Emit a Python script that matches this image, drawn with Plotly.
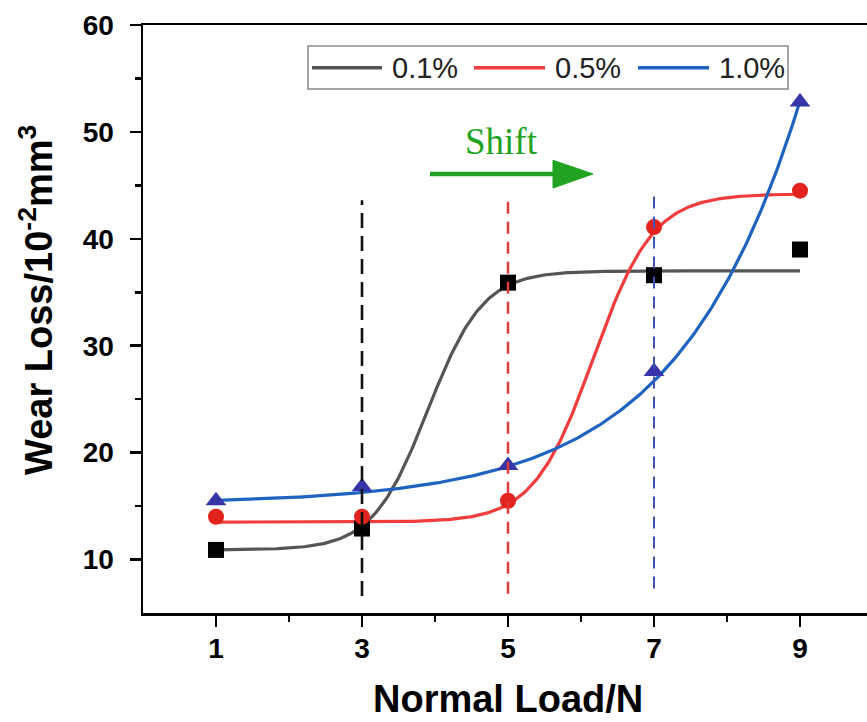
import numpy as np
import plotly.graph_objects as go

# ---- measured wear loss (10^-2 mm^3) vs normal load (N) ----
loads = [1, 3, 5, 7, 9]
wear_01 = [10.9, 12.9, 35.9, 36.6, 39.0]
wear_05 = [14.0, 14.0, 15.5, 41.1, 44.5]
wear_10 = [15.5, 16.8, 18.8, 27.6, 52.8]
series_names = ["0.1%", "0.5%", "1.0%"]

# ---- fitted model parameters ----
# Boltzmann sigmoid: y = A2 + (A1 - A2) / (1 + exp((x - x0) / dx))
boltz_01 = dict(A1=10.9, A2=37.0, x0=3.9, dx=0.38)
boltz_05 = dict(A1=13.5, A2=44.2, x0=6.17, dx=0.41)
# Exponential growth: y = y0 + A * exp(x / t)
expgrow_10 = dict(y0=15.2, A=0.18, t=1.684)

# ---- transition markers (vertical dashed guides) ----
guide_x = [3, 5, 7]
guide_bottom = [6.6, 6.8, 7.3]
guide_top = [43.6, 43.6, 44.2]

# ---- axes ----
x_ticks = [1, 3, 5, 7, 9]
x_minor = [2, 4, 6, 8]
y_ticks = [10, 20, 30, 40, 50, 60]
y_minor = [15, 25, 35, 45, 55]

W, H = 867, 722
ML, MR, MT, MB = 143, 0, 25, 109
PX_PER_X = 73.0
x_range = [0, (W - ML - MR) / PX_PER_X]
y_range = [5, 60]


def px_x(px):
    return (px - ML) / (W - ML - MR)


def px_y(py):
    return (H - MB - py) / (H - MT - MB)


def boltzmann(x, A1, A2, x0, dx):
    return A2 + (A1 - A2) / (1.0 + np.exp((x - x0) / dx))


def exp_growth(x, y0, A, t):
    return y0 + A * np.exp(x / t)


xf = np.linspace(min(loads), max(loads), 300)
fit_01 = boltzmann(xf, **boltz_01)
fit_05 = boltzmann(xf, **boltz_05)
fit_10 = exp_growth(xf, **expgrow_10)

line_cols = ["#555555", "#f03c3c", "#1f63c0"]
marker_cols = ["#000000", "#e3241e", "#3535a8"]
guide_cols = ["#111111", "#e03a3a", "#3a55b5"]
guide_dash = ["15px,8px", "12px,8px", "12px,8px"]
guide_width = [2.6, 2.5, 2.0]

fig = go.Figure()

# fitted curves
for yfit, col in zip([fit_01, fit_05, fit_10], line_cols):
    fig.add_trace(go.Scatter(x=xf, y=yfit, mode="lines",
                             line=dict(color=col, width=3.2),
                             showlegend=False, hoverinfo="skip"))

# measured points
for ys, col, sym in zip([wear_01, wear_05, wear_10], marker_cols,
                        ["square", "circle", "triangle-up"]):
    fig.add_trace(go.Scatter(x=loads, y=ys, mode="markers",
                             marker=dict(symbol=sym, size=16 if sym != "triangle-up" else 18,
                                         color=col, line=dict(width=0)),
                             showlegend=False, hoverinfo="skip"))

# vertical dashed guides
for gx, gb, gt, col, dsh, lw in zip(guide_x, guide_bottom, guide_top,
                                    guide_cols, guide_dash, guide_width):
    fig.add_trace(go.Scatter(x=[gx, gx], y=[gb, gt], mode="lines",
                             line=dict(color=col, width=lw, dash=dsh),
                             showlegend=False, hoverinfo="skip"))

shapes = []
annotations = []

# legend box drawn by hand (long line samples)
shapes.append(dict(type="rect", xref="paper", yref="paper",
                   x0=px_x(308), x1=px_x(788), y0=px_y(89), y1=px_y(46),
                   line=dict(color="#8a8a8a", width=1.5), fillcolor="white", layer="above"))
leg_y = px_y(67.7)
leg_items = [(312, 382, 390), (474, 545, 553), (638, 709, 717)]
for (lx0, lx1, tx), name, col in zip(leg_items, series_names, line_cols):
    shapes.append(dict(type="line", xref="paper", yref="paper",
                       x0=px_x(lx0), x1=px_x(lx1), y0=leg_y, y1=leg_y,
                       line=dict(color=col, width=3.4), layer="above"))
    annotations.append(dict(text=name, xref="paper", yref="paper",
                            x=px_x(tx), y=px_y(68), xanchor="left", yanchor="middle",
                            showarrow=False,
                            font=dict(family="Liberation Sans, Arial", size=29, color="#222222")))

# "Shift" arrow
shift_col = "#21a321"
shapes.append(dict(type="line", xref="x", yref="y",
                   x0=(430 - ML) / PX_PER_X, x1=(556 - ML) / PX_PER_X,
                   y0=46.07, y1=46.07, line=dict(color=shift_col, width=4.5)))
ax0 = (553 - ML) / PX_PER_X
ax1 = (593 - ML) / PX_PER_X
shapes.append(dict(type="path", xref="x", yref="y",
                   path=f"M {ax0},47.35 L {ax1},46.07 L {ax0},44.75 Z",
                   fillcolor=shift_col, line=dict(color=shift_col, width=1)))
annotations.append(dict(text="Shift", xref="paper", yref="paper",
                        x=px_x(501), y=px_y(141), xanchor="center", yanchor="middle",
                        showarrow=False,
                        font=dict(family="Liberation Serif, Times New Roman", size=37,
                                  color=shift_col)))

# axis titles
annotations.append(dict(text="Normal Load/N", xref="paper", yref="paper",
                        x=px_x(508), y=px_y(699), xanchor="center", yanchor="middle",
                        showarrow=False,
                        font=dict(family="Liberation Sans, Arial", size=38, weight="bold",
                                  color="black")))
annotations.append(dict(text="Wear Loss/10<sup>-2</sup>mm<sup>3</sup>", xref="paper", yref="paper",
                        x=px_x(36), y=px_y(300), xanchor="center", yanchor="middle",
                        textangle=-90, showarrow=False,
                        font=dict(family="Liberation Sans, Arial", size=38, weight="bold",
                                  color="black")))

tick_font = dict(family="Liberation Sans, Arial", size=28, weight="bold", color="black")

fig.update_layout(
    width=W, height=H,
    margin=dict(l=ML, r=MR, t=MT, b=MB),
    paper_bgcolor="white", plot_bgcolor="white",
    shapes=shapes, annotations=annotations,
    hovermode=False,
    xaxis=dict(range=x_range, tickmode="array", tickvals=x_ticks,
               ticktext=[str(v) for v in x_ticks],
               ticks="outside", ticklen=11, tickwidth=2.5, tickcolor="black",
               minor=dict(tickmode="array", tickvals=x_minor, ticks="outside",
                          ticklen=6, tickwidth=2.5, tickcolor="black"),
               showline=True, linecolor="black", linewidth=2.5, mirror=True,
               showgrid=False, zeroline=False, tickfont=tick_font,
               ticklabelstandoff=-2, fixedrange=True),
    yaxis=dict(range=y_range, tickmode="array", tickvals=y_ticks,
               ticktext=[str(v) for v in y_ticks],
               ticks="outside", ticklen=11, tickwidth=2.5, tickcolor="black",
               minor=dict(tickmode="array", tickvals=y_minor, ticks="outside",
                          ticklen=6, tickwidth=2.5, tickcolor="black"),
               showline=True, linecolor="black", linewidth=2.5, mirror=False,
               showgrid=False, zeroline=False, tickfont=tick_font,
               ticklabelstandoff=10, fixedrange=True),
)

fig.write_html("out.html", config=dict(displayModeBar=False, staticPlot=True))
